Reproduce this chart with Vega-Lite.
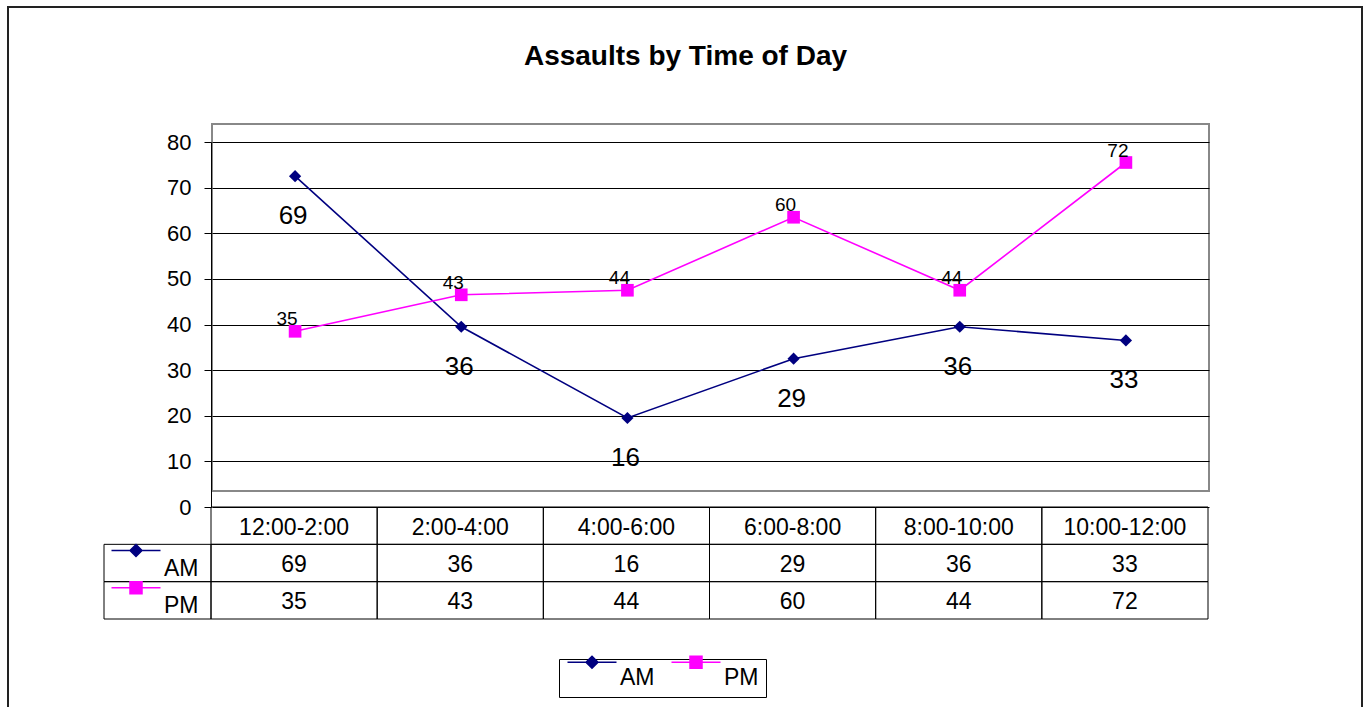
{
  "$schema": "https://vega.github.io/schema/vega-lite/v6.json",
  "width": 997,
  "height": 367,
  "autosize": {"type": "none"},
  "padding": {"left": 212, "top": 124, "right": 160, "bottom": 216},
  "background": "white",
  "config": {
    "view": {"stroke": "#888888", "strokeWidth": 2},
    "font": "Liberation Sans",
    "text": {"font": "Liberation Sans", "color": "#000000"},
    "legend": {"title": null, "orient": "none", "legendX": 347, "legendY": 535, "direction": "horizontal", "columns": 2, "symbolSize": 400, "symbolStrokeWidth": 1.5, "labelFontSize": 23, "labelFont": "Liberation Sans", "labelColor": "#000000", "labelOffset": 31, "columnPadding": 13, "padding": 7, "strokeColor": "#000000", "labelBaseline": "middle"}
  },
  "title": {
    "text": "Assaults by Time of Day",
    "font": "Liberation Sans",
    "fontSize": 28,
    "fontWeight": "bold",
    "color": "#000000",
    "anchor": "middle",
    "baseline": "bottom",
    "offset": 0,
    "dx": -25,
    "dy": 93
  },
  "data": {
    "values": [
      {"time": "12:00-2:00", "series": "AM", "count": 69},
      {"time": "2:00-4:00", "series": "AM", "count": 36},
      {"time": "4:00-6:00", "series": "AM", "count": 16},
      {"time": "6:00-8:00", "series": "AM", "count": 29},
      {"time": "8:00-10:00", "series": "AM", "count": 36},
      {"time": "10:00-12:00", "series": "AM", "count": 33},
      {"time": "12:00-2:00", "series": "PM", "count": 35},
      {"time": "2:00-4:00", "series": "PM", "count": 43},
      {"time": "4:00-6:00", "series": "PM", "count": 44},
      {"time": "6:00-8:00", "series": "PM", "count": 60},
      {"time": "8:00-10:00", "series": "PM", "count": 44},
      {"time": "10:00-12:00", "series": "PM", "count": 72}
    ]
  },
  "resolve": {"scale": {"x": "independent", "y": "independent"}},
  "layer": [
    {
      "data": {"values": [{}]},
      "mark": {"type": "rect", "fill": "white", "fillOpacity": 0, "stroke": "#222222", "strokeWidth": 2},
      "encoding": {
        "x": {"datum": 0, "type": "quantitative", "scale": {"domain": [0, 1], "range": [-204, 1150], "zero": false, "nice": false}, "axis": null},
        "x2": {"datum": 1},
        "y": {"datum": 0, "type": "quantitative", "scale": {"domain": [0, 1], "range": [-117, 620], "zero": false, "nice": false}, "axis": null},
        "y2": {"datum": 1}
      }
    },
    {
      "mark": {"type": "point", "opacity": 0},
      "encoding": {
        "x": {"field": "time", "type": "nominal", "sort": ["12:00-2:00", "2:00-4:00", "4:00-6:00", "6:00-8:00", "8:00-10:00", "10:00-12:00"], "axis": null},
        "y": {
          "field": "count", "type": "quantitative",
          "scale": {"domain": [0, 80], "range": [383, 18], "zero": false, "nice": false},
          "axis": {
            "values": [0, 10, 20, 30, 40, 50, 60, 70, 80],
            "title": null, "offset": 1,
            "grid": true, "gridColor": "#000000", "gridOpacity": 1, "gridWidth": 1,
            "domainColor": "#000000", "domainWidth": 1,
            "tickColor": "#000000", "tickSize": 7, "tickWidth": 1,
            "labelFont": "Liberation Sans", "labelFontSize": 22, "labelColor": "#000000", "labelPadding": 13
          }
        }
      }
    },
    {
      "mark": {"type": "line", "strokeWidth": 1.6},
      "encoding": {
        "x": {"field": "time", "type": "nominal", "sort": ["12:00-2:00", "2:00-4:00", "4:00-6:00", "6:00-8:00", "8:00-10:00", "10:00-12:00"], "axis": null},
        "y": {"field": "count", "type": "quantitative", "scale": {"domain": [0, 80], "range": [367, 2], "zero": false, "nice": false}, "axis": null},
        "color": {"field": "series", "type": "nominal", "scale": {"domain": ["AM", "PM"], "range": ["#000080", "#FF00FF"]}}
      }
    },
    {
      "transform": [{"filter": "datum.series == 'AM'"}],
      "mark": {"type": "point", "shape": "diamond", "filled": true, "opacity": 1, "size": 150},
      "encoding": {
        "x": {"field": "time", "type": "nominal", "sort": ["12:00-2:00", "2:00-4:00", "4:00-6:00", "6:00-8:00", "8:00-10:00", "10:00-12:00"], "axis": null},
        "y": {"field": "count", "type": "quantitative", "scale": {"domain": [0, 80], "range": [367, 2], "zero": false, "nice": false}, "axis": null},
        "color": {"field": "series", "type": "nominal", "scale": {"domain": ["AM", "PM"], "range": ["#000080", "#FF00FF"]}}
      }
    },
    {
      "transform": [{"filter": "datum.series == 'PM'"}],
      "mark": {"type": "point", "shape": "square", "filled": true, "opacity": 1, "size": 160},
      "encoding": {
        "x": {"field": "time", "type": "nominal", "sort": ["12:00-2:00", "2:00-4:00", "4:00-6:00", "6:00-8:00", "8:00-10:00", "10:00-12:00"], "axis": null},
        "y": {"field": "count", "type": "quantitative", "scale": {"domain": [0, 80], "range": [367, 2], "zero": false, "nice": false}, "axis": null},
        "color": {"field": "series", "type": "nominal", "scale": {"domain": ["AM", "PM"], "range": ["#000080", "#FF00FF"]}}
      }
    },
    {
      "transform": [{"filter": "datum.series == 'AM'"}],
      "mark": {"type": "text", "fontSize": 26, "baseline": "middle", "align": "center", "dx": -2, "dy": 40, "color": "#000000"},
      "encoding": {
        "x": {"field": "time", "type": "nominal", "sort": ["12:00-2:00", "2:00-4:00", "4:00-6:00", "6:00-8:00", "8:00-10:00", "10:00-12:00"], "axis": null},
        "y": {"field": "count", "type": "quantitative", "scale": {"domain": [0, 80], "range": [367, 2], "zero": false, "nice": false}, "axis": null},
        "text": {"field": "count", "type": "quantitative"}
      }
    },
    {
      "transform": [{"filter": "datum.series == 'PM'"}],
      "mark": {"type": "text", "fontSize": 19, "baseline": "middle", "align": "center", "dx": -8, "dy": -12, "color": "#000000"},
      "encoding": {
        "x": {"field": "time", "type": "nominal", "sort": ["12:00-2:00", "2:00-4:00", "4:00-6:00", "6:00-8:00", "8:00-10:00", "10:00-12:00"], "axis": null},
        "y": {"field": "count", "type": "quantitative", "scale": {"domain": [0, 80], "range": [367, 2], "zero": false, "nice": false}, "axis": null},
        "text": {"field": "count", "type": "quantitative"}
      }
    },
    {
      "mark": {"type": "rect", "fill": "white", "fillOpacity": 0, "stroke": "#000000", "strokeWidth": 1},
      "encoding": {
        "x": {"field": "time", "type": "nominal", "sort": ["12:00-2:00", "2:00-4:00", "4:00-6:00", "6:00-8:00", "8:00-10:00", "10:00-12:00"], "scale": {"type": "band", "range": [-1, 996], "paddingInner": 0, "paddingOuter": 0}, "axis": null},
        "y": {"field": "series", "type": "nominal", "scale": {"type": "band", "domain": ["Time", "AM", "PM"], "range": [383, 495], "paddingInner": 0, "paddingOuter": 0}, "axis": null}
      }
    },
    {
      "mark": {"type": "text", "fontSize": 23, "baseline": "middle", "align": "center", "dy": 2, "color": "#000000"},
      "encoding": {
        "x": {"field": "time", "type": "nominal", "sort": ["12:00-2:00", "2:00-4:00", "4:00-6:00", "6:00-8:00", "8:00-10:00", "10:00-12:00"], "scale": {"type": "band", "range": [-1, 996], "paddingInner": 0, "paddingOuter": 0}, "axis": null},
        "y": {"field": "series", "type": "nominal", "scale": {"type": "band", "domain": ["Time", "AM", "PM"], "range": [383, 495], "paddingInner": 0, "paddingOuter": 0}, "axis": null},
        "text": {"field": "count", "type": "quantitative"}
      }
    },
    {
      "transform": [{"filter": "datum.series == 'AM'"}],
      "mark": {"type": "rect", "fill": "white", "fillOpacity": 0, "stroke": "#000000", "strokeWidth": 1},
      "encoding": {
        "x": {"field": "time", "type": "nominal", "sort": ["12:00-2:00", "2:00-4:00", "4:00-6:00", "6:00-8:00", "8:00-10:00", "10:00-12:00"], "scale": {"type": "band", "range": [-1, 996], "paddingInner": 0, "paddingOuter": 0}, "axis": null},
        "y": {"datum": "Time", "type": "nominal", "scale": {"type": "band", "domain": ["Time", "AM", "PM"], "range": [383, 495], "paddingInner": 0, "paddingOuter": 0}, "axis": null}
      }
    },
    {
      "transform": [{"filter": "datum.series == 'AM'"}],
      "mark": {"type": "text", "fontSize": 23, "baseline": "middle", "align": "center", "dy": 2, "color": "#000000"},
      "encoding": {
        "x": {"field": "time", "type": "nominal", "sort": ["12:00-2:00", "2:00-4:00", "4:00-6:00", "6:00-8:00", "8:00-10:00", "10:00-12:00"], "scale": {"type": "band", "range": [-1, 996], "paddingInner": 0, "paddingOuter": 0}, "axis": null},
        "y": {"datum": "Time", "type": "nominal", "scale": {"type": "band", "domain": ["Time", "AM", "PM"], "range": [383, 495], "paddingInner": 0, "paddingOuter": 0}, "axis": null},
        "text": {"field": "time", "type": "nominal"}
      }
    },
    {
      "transform": [{"filter": "datum.time == '12:00-2:00'"}],
      "mark": {"type": "rect", "fill": "white", "fillOpacity": 0, "stroke": "#000000", "strokeWidth": 1},
      "encoding": {
        "x": {"datum": "key", "type": "nominal", "scale": {"type": "band", "domain": ["key"], "range": [-108, -1], "paddingInner": 0, "paddingOuter": 0}, "axis": null},
        "y": {"field": "series", "type": "nominal", "scale": {"type": "band", "domain": ["Time", "AM", "PM"], "range": [383, 495], "paddingInner": 0, "paddingOuter": 0}, "axis": null}
      }
    },
    {
      "transform": [{"filter": "datum.time == '12:00-2:00'"}],
      "mark": {"type": "text", "fontSize": 23, "baseline": "alphabetic", "align": "right", "dx": 41, "dy": 13, "color": "#000000"},
      "encoding": {
        "x": {"datum": "key", "type": "nominal", "scale": {"type": "band", "domain": ["key"], "range": [-108, -1], "paddingInner": 0, "paddingOuter": 0}, "axis": null},
        "y": {"field": "series", "type": "nominal", "scale": {"type": "band", "domain": ["Time", "AM", "PM"], "range": [383, 495], "paddingInner": 0, "paddingOuter": 0}, "axis": null},
        "text": {"field": "series", "type": "nominal"}
      }
    },
    {
      "transform": [{"filter": "datum.time == '12:00-2:00'"}],
      "mark": {"type": "point", "filled": true, "opacity": 1, "size": 400, "strokeWidth": 1.5, "xOffset": -36, "yOffset": 3},
      "encoding": {
        "x": {"datum": "key", "type": "nominal", "scale": {"type": "band", "domain": ["key"], "range": [-108, -1], "paddingInner": 0, "paddingOuter": 0}, "axis": null},
        "y": {"field": "series", "type": "nominal", "scale": {"type": "band", "domain": ["Time", "AM", "PM"], "range": [383, 495], "paddingInner": 0, "paddingOuter": 0}, "axis": null},
        "color": {"field": "series", "type": "nominal", "scale": {"domain": ["AM", "PM"], "range": ["#000080", "#FF00FF"]}},
        "stroke": {"field": "series", "type": "nominal", "scale": {"domain": ["AM", "PM"], "range": ["#000080", "#FF00FF"]}},
        "shape": {"field": "series", "type": "nominal", "scale": {"domain": ["AM", "PM"], "range": ["M-1,-1.55H3.9M1.45,-2.15L2.05,-1.55L1.45,-0.95L0.85,-1.55Z", "M-1,-1.55H3.9M0.85,-2.15H2.05V-0.95H0.85Z"]}}
      }
    }
  ]
}
